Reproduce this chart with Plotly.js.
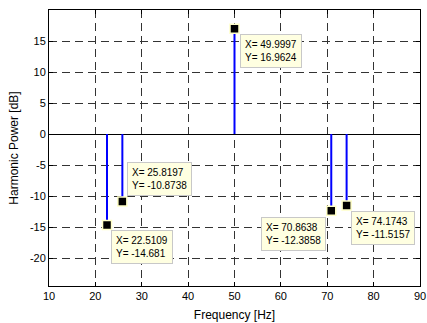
<!DOCTYPE html>
<html>
<head>
<meta charset="utf-8">
<script src="https://cdn.plot.ly/plotly-3.0.1.min.js"></script>
<style>html,body{margin:0;padding:0;background:#fff;}#chart{width:427px;height:323px;}</style>
</head>
<body>
<div id="chart"></div>
<script>
// Data
const freqs = [22.5109, 25.8197, 49.9997, 70.8638, 74.1743];
const powers = [-14.681, -10.8738, 16.9624, -12.3858, -11.5157];
const xTicks = [10, 20, 30, 40, 50, 60, 70, 80, 90];
const yTicks = [-20, -15, -10, -5, 0, 5, 10, 15];
const xLabel = 'Frequency [Hz]';
const yLabel = 'Harmonic Power [dB]';

// Datatip placement (anchor side and pixel offsets)
const tipPlace = [
  {xa: 'left', ya: 'top', dx: 4, dy: -5},
  {xa: 'left', ya: 'bottom', dx: 5, dy: 5},
  {xa: 'left', ya: 'top', dx: 5, dy: -5},
  {xa: 'right', ya: 'top', dx: -5, dy: -6},
  {xa: 'left', ya: 'top', dx: 4, dy: -6}
];

const stemX = [], stemY = [];
freqs.forEach((f, i) => { stemX.push(f, f, null); stemY.push(0, powers[i], null); });

const traces = [
  {x: stemX, y: stemY, mode: 'lines', line: {color: '#0000ff', width: 2}, hoverinfo: 'skip', showlegend: false},
  {x: freqs, y: powers, mode: 'markers', marker: {symbol: 'square', size: 9, color: '#000', line: {color: '#ffffc8', width: 1.5}}, showlegend: false}
];

const annotations = freqs.map((f, i) => ({
  x: f, y: powers[i], xref: 'x', yref: 'y',
  text: 'X= ' + f + '<br>Y= ' + powers[i],
  showarrow: false, align: 'left',
  xanchor: tipPlace[i].xa, yanchor: tipPlace[i].ya,
  xshift: tipPlace[i].dx, yshift: tipPlace[i].dy,
  bgcolor: '#ffffe1', bordercolor: '#c8c8c8', borderwidth: 1, borderpad: 4,
  font: {family: 'Liberation Sans, Arial, sans-serif', size: 10, color: '#000'}
}));

const axisCommon = {
  showline: true, linecolor: '#000', linewidth: 1, mirror: 'ticks',
  ticks: 'inside', ticklen: 4, tickcolor: '#000',
  showgrid: true, gridcolor: '#333', gridwidth: 1, griddash: '8px,5px',
  tickfont: {family: 'Liberation Sans, Arial, sans-serif', size: 11, color: '#000'},
  zeroline: false
};

const layout = {
  width: 427, height: 323,
  margin: {l: 49, r: 7, t: 10, b: 37, pad: 0},
  paper_bgcolor: '#fff', plot_bgcolor: '#fff',
  showlegend: false,
  xaxis: Object.assign({}, axisCommon, {
    range: [10, 90], tickvals: xTicks, ticktext: xTicks.map(String),
    title: {text: xLabel, standoff: 9, font: {family: 'Liberation Sans, Arial, sans-serif', size: 12, color: '#000'}}
  }),
  yaxis: Object.assign({}, axisCommon, {
    range: [-24.5, 20], tickvals: yTicks, ticktext: yTicks.map(String),
    zeroline: true, zerolinecolor: '#000', zerolinewidth: 1,
    title: {text: yLabel, standoff: 8, font: {family: 'Liberation Sans, Arial, sans-serif', size: 12, color: '#000'}}
  }),
  annotations: annotations
};

Plotly.newPlot('chart', traces, layout, {displayModeBar: false, staticPlot: true});
</script>
</body>
</html>
